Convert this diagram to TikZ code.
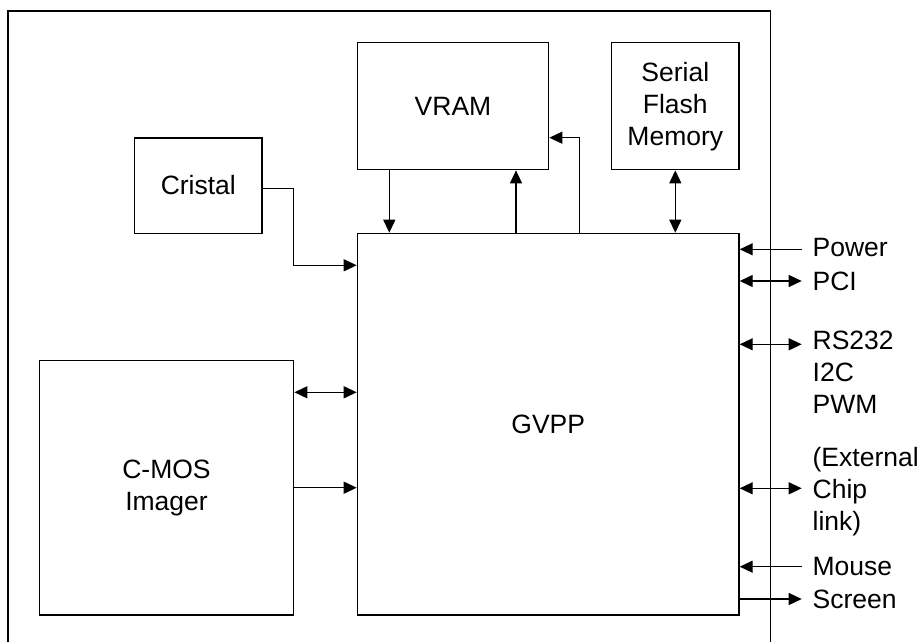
\documentclass[tikz,border=0pt]{standalone}
\usepackage{fontspec}
\setmainfont{Liberation Sans}
\usetikzlibrary{arrows.meta}
\begin{document}
\begin{tikzpicture}[x=1pt,y=-1pt,line width=1.3pt,
  txt/.style={font=\fontsize{26.5}{32}\selectfont},
  box/.style={draw,rectangle,inner sep=0pt,align=center,txt},
  lbl/.style={anchor=west,inner sep=0pt,align=left,txt},
  >={Triangle[length=13pt,width=12pt]}]
\useasboundingbox (0,0) rectangle (921,642);
% board outline (open at the bottom)
\draw (8,660) -- (8,11) -- (770.5,11) -- (770.5,660);

% blocks
\node[box,minimum width=127.3pt,minimum height=95.3pt] (cristal) at (198.3,185.5) {Cristal};
\node[box,minimum width=191.4pt,minimum height=127pt] (vram) at (453,106.2) {VRAM};
\node[box,minimum width=127.3pt,minimum height=127pt] (flash) at (675.3,106.2) {Serial\\Flash\\Memory};
\node[box,minimum width=381.7pt,minimum height=381.7pt] (gvpp) at (548.2,424.2) {GVPP};
\node[box,minimum width=254.4pt,minimum height=254.3pt] (cmos) at (166.5,487.8) {C-MOS\\Imager};

% helper positions
\coordinate (cx) at (293.7,188.7);
\coordinate (cy) at (293.7,265.3);
\coordinate (v1) at (389.3,0);
\coordinate (v2) at (516,0);
\coordinate (v3) at (579.3,137.7);
\coordinate (m1) at (0,392.3);
\coordinate (m2) at (0,487.7);

% Cristal to GVPP
\draw[->] (cx -| cristal.east) -- (cx) -- (cy) -- (cy -| gvpp.west);
% VRAM links
\draw[->] (vram.south -| v1) -- (gvpp.north -| v1);
\draw[->] (gvpp.north -| v2) -- (vram.south -| v2);
\draw[->] (gvpp.north -| v3) -- (v3) -- (v3 -| vram.east);
% Serial flash link
\draw[<->] (flash.south) -- (flash.south |- gvpp.north);
% imager links
\draw[<->] (m1 -| cmos.east) -- (m1 -| gvpp.west);
\draw[->] (m2 -| cmos.east) -- (m2 -| gvpp.west);

% external signals
\coordinate (pw) at (801.7,249.3);
\coordinate (pci) at (801.7,281);
\coordinate (rs) at (801.7,344.3);
\coordinate (ext) at (801.7,488.3);
\coordinate (ms) at (801.7,566.7);
\coordinate (sc) at (801.7,599);
\draw[->] (pw) -- (pw -| gvpp.east);
\draw[<->] (pci -| gvpp.east) -- (pci);
\draw[<->] (rs -| gvpp.east) -- (rs);
\draw[<->] (ext -| gvpp.east) -- (ext);
\draw[->] (ms) -- (ms -| gvpp.east);
\draw[->] (sc -| gvpp.east) -- (sc);

\node[lbl] (lpw) at (812,248) {Power};
\node[lbl] (lpci) at (812,281) {PCI};
\node[lbl] (lrs) at (812,372) {RS232\\I2C\\PWM};
\node[lbl] (lext) at (812,492) {(External\\Chip\\link)};
\node[lbl] (lms) at (812,567) {Mouse};
\node[lbl] (lsc) at (812,599) {Screen};
\end{tikzpicture}
\end{document}
